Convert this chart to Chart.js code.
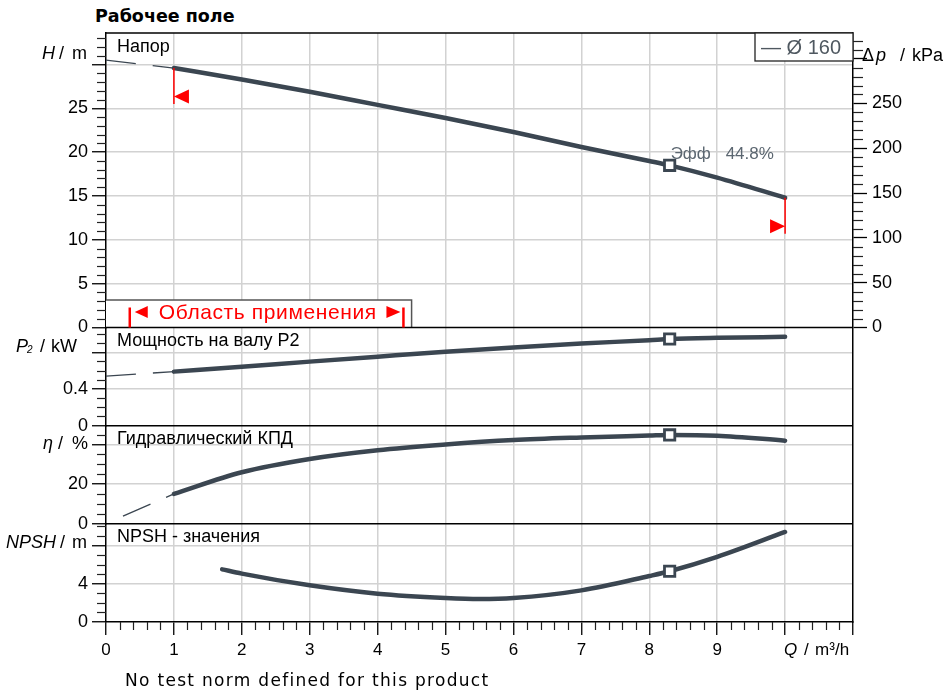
<!DOCTYPE html>
<html><head><meta charset="utf-8">
<script src="https://cdn.jsdelivr.net/npm/chart.js@4"></script>
<style>
html,body{margin:0;padding:0;background:#fff;}
#wrap{position:relative;width:944px;height:693px;overflow:hidden;}
#c{position:absolute;left:0;top:0;}
#title{position:absolute;left:95px;top:6px;font:bold 17.5px "DejaVu Sans";line-height:20px;color:#000;}
#foot{position:absolute;left:125px;top:670px;font:17px "DejaVu Sans";line-height:20px;letter-spacing:1.3px;color:#000;}
</style></head><body>
<div id="wrap">
<div id="title">Рабочее поле</div>
<canvas id="c" width="944" height="693"></canvas>
<div id="foot">No test norm defined for this product</div>
</div>
<script>
// ---------- data ----------
const qHead      = [1, 2, 3, 4, 5, 6, 7, 8, 8.3, 9, 10];
const head       = [29.6, 28.3, 26.9, 25.4, 23.9, 22.3, 20.6, 19.0, 18.5, 17.1, 14.8];
const qHeadExt   = [0, 1];
const headExt    = [30.5, 29.6];

const qPower     = [1, 2, 3, 4, 5, 6, 7, 8, 8.3, 9, 10];
const power      = [0.589, 0.643, 0.698, 0.752, 0.805, 0.852, 0.895, 0.932, 0.945, 0.958, 0.968];
const qPowerExt  = [0, 1];
const powerExt   = [0.54, 0.589];

const qEff       = [1, 2, 3, 4, 5, 6, 7, 8, 8.3, 9, 10];
const eff        = [15.1, 26.0, 32.7, 37.1, 40.0, 42.2, 43.5, 44.5, 44.8, 44.4, 41.9];
const qEffExt    = [0.25, 1];
const effExt     = [3.9, 15.1];

const qNpsh      = [1.71, 2, 3, 4, 5, 5.5, 6, 7, 8, 8.3, 9, 10];
const npsh       = [5.5, 5.05, 3.83, 2.96, 2.51, 2.4, 2.5, 3.3, 4.8, 5.3, 6.8, 9.4];

const dutyQ      = [8.3];
const dutyHead   = [18.5];
const dutyPower  = [0.945];
const dutyEff    = [44.8];
const dutyNpsh   = [5.3];

const rangeLimits = [1, 10];           // limits of the operating range (flags)
const xTickLabels = ['0','1','2','3','4','5','6','7','8','9'];
const effText = ['Эфф', '44.8%'];
const legendText = '— Ø 160';
const panelTitles = ['Напор', 'Мощность на валу P2', 'Гидравлический КПД', 'NPSH - значения'];
const rangeText = 'Область применения';

// ---------- scale ranges ----------
const H_MAX = 33.6, P_MAX = 1.07, ETA_MAX = 49.45, NPSH_MAX = 10.25;
const RHO_G = 9.78;                    // kPa per m
const DP_MAX = H_MAX * RHO_G;

const LINE = '#3b4651';
const GRID = '#d2d2d2';
const FONT = '"Liberation Sans", Arial, sans-serif';
Chart.defaults.font.family = FONT;
Chart.defaults.color = '#000';

const isMult = (v, s) => { const r = v / s; return Math.abs(r - Math.round(r)) < 1e-6; };
const pts = (xs, ys) => xs.map((x, i) => ({x, y: ys[i]}));

function lineDs(xs, ys, axis, dashed) {
  return {
    data: pts(xs, ys), yAxisID: axis, xAxisID: 'x',
    borderColor: LINE, borderWidth: dashed ? 1.3 : 4.5,
    borderDash: dashed ? [30, 17] : [],
    borderCapStyle: dashed ? 'butt' : 'round',
    pointRadius: 0, fill: false, order: 2,
    cubicInterpolationMode: 'monotone', tension: 0.4
  };
}
function markerDs(xs, ys, axis) {
  return {
    data: pts(xs, ys), yAxisID: axis, xAxisID: 'x', showLine: false,
    pointStyle: 'rect', pointRadius: 7.3, pointBorderWidth: 2.8,
    pointBackgroundColor: '#fff', pointBorderColor: LINE, order: 0
  };
}

function yAxis(id, max, step, major, labelMax, weight, stackWeight, fmt) {
  return {
    type: 'linear', position: 'left', stack: 'L', stackWeight, weight,
    min: 0, max,
    afterFit: s => { s.width = 106; },
    border: {display: true, color: '#000', width: 1.5},
    ticks: {
      stepSize: step, autoSkip: false, includeBounds: false, padding: 4,
      font: {size: 18, family: FONT}, color: '#000',
      callback: v => (isMult(v, major) && v < labelMax) ? fmt(v) : ''
    },
    grid: {
      color: c => (isMult(c.tick.value, major) && c.tick.value > 0) ? GRID : 'rgba(0,0,0,0)',
      lineWidth: 1.5, tickLength: 14,
      tickColor: c => isMult(c.tick.value, major) ? '#000' : 'rgba(0,0,0,0)',
      tickWidth: 1.3
    }
  };
}

function richText(ctx, parts, y) {
  parts.forEach(p => {
    ctx.font = p.font;
    ctx.fillText(p.t, p.x, y + (p.dy || 0));
  });
}

const decor = {
  id: 'decor',
  beforeDatasetsDraw(chart) {
    const {ctx, chartArea: a, scales: s} = chart;
    const x = s.x, yH = s.yH;
    const bx0 = a.left, bx1 = x.getPixelForValue(4.5);
    const by1 = yH.bottom, by0 = by1 - 27.5;
    ctx.save();
    ctx.fillStyle = '#fff';
    ctx.fillRect(bx0, by0, bx1 - bx0, by1 - by0);
    ctx.strokeStyle = '#555';
    ctx.lineWidth = 1.5;
    ctx.beginPath();
    ctx.moveTo(bx0, by0); ctx.lineTo(bx1, by0); ctx.lineTo(bx1, by1);
    ctx.stroke();
    ctx.restore();
  },
  afterDraw(chart) {
    const {ctx, chartArea: a, scales: s} = chart;
    const x = s.x, yH = s.yH, yP = s.yP2, yE = s.yEta, yN = s.yN, yD = s.yDp;
    ctx.save();
    // minor ticks
    ctx.strokeStyle = '#222'; ctx.lineWidth = 1.2;
    const minors = [[yH, 5, 9], [yP, 0.4, 9], [yE, 20, 9], [yN, 4, 9]];
    minors.forEach(([sc, major, len]) => {
      sc.ticks.forEach(t => {
        if (isMult(t.value, major)) return;
        const p = Math.round(sc.getPixelForValue(t.value)) + 0.5;
        ctx.beginPath(); ctx.moveTo(sc.right - len, p); ctx.lineTo(sc.right, p); ctx.stroke();
      });
    });
    yD.ticks.forEach(t => {
      if (t.value < 0 || isMult(t.value, 50)) return;
      const p = Math.round(yD.getPixelForValue(t.value)) + 0.5;
      ctx.beginPath(); ctx.moveTo(yD.left, p); ctx.lineTo(yD.left + 10, p); ctx.stroke();
    });
    x.ticks.forEach(t => {
      if (isMult(t.value, 1)) return;
      const p = Math.round(x.getPixelForValue(t.value)) + 0.5;
      ctx.beginPath(); ctx.moveTo(p, x.top); ctx.lineTo(p, x.top + 8); ctx.stroke();
    });

    // panel borders
    ctx.strokeStyle = '#000'; ctx.lineWidth = 1.5;
    [a.top, yH.bottom, yP.bottom, yE.bottom].forEach(yy => {
      ctx.beginPath(); ctx.moveTo(a.left, yy); ctx.lineTo(a.right, yy); ctx.stroke();
    });

    // axis titles
    ctx.fillStyle = '#000'; ctx.textAlign = 'left'; ctx.textBaseline = 'middle';
    const N = '18px ' + FONT, I = 'italic 18px ' + FONT;
    richText(ctx, [{t: 'H', font: I, x: 42}, {t: '/', font: N, x: 59}, {t: 'm', font: N, x: 72}], yH.getPixelForValue(30) - 11);
    richText(ctx, [{t: 'P', font: I, x: 16}, {t: '2', font: 'italic 10px ' + FONT, x: 27, dy: 3}, {t: '/', font: N, x: 40}, {t: 'kW', font: N, x: 51}], yP.getPixelForValue(0.8) - 5);
    richText(ctx, [{t: 'η', font: I, x: 43}, {t: '/', font: N, x: 58}, {t: '%', font: N, x: 72}], yE.getPixelForValue(40));
    richText(ctx, [{t: 'NPSH', font: I, x: 6}, {t: '/', font: N, x: 60}, {t: 'm', font: N, x: 72}], yN.getPixelForValue(8) - 2);
    const dl = yD.left;
    richText(ctx, [{t: 'Δ', font: N, x: dl + 9}, {t: 'p', font: I, x: dl + 23}, {t: '/', font: N, x: dl + 47}, {t: 'kPa', font: N, x: dl + 59}], yD.getPixelForValue(300) - 3);
    const qx = x.getPixelForValue(10);
    const ly = x.top + 28;
    richText(ctx, [{t: 'Q', font: 'italic 17px ' + FONT, x: qx - 1}, {t: '/', font: '17px ' + FONT, x: qx + 19}, {t: 'm³/h', font: '17px ' + FONT, x: qx + 30}], ly);

    // panel titles
    ctx.textBaseline = 'alphabetic';
    ctx.font = '18px ' + FONT;
    [yH, yP, yE, yN].forEach((sc, i) => {
      ctx.fillText(panelTitles[i], a.left + 11, sc.top + 18.5);
    });

    // legend box
    const lw = 98, lh = 28;
    ctx.fillStyle = '#fff';
    ctx.fillRect(a.right - lw, a.top, lw, lh);
    ctx.strokeStyle = '#222'; ctx.lineWidth = 1.3;
    ctx.strokeRect(a.right - lw, a.top, lw, lh);
    ctx.fillStyle = '#4f5860';
    ctx.font = '20px ' + FONT;
    ctx.fillText(legendText, a.right - lw + 6, a.top + 21);

    // efficiency label near duty point
    const dx = x.getPixelForValue(dutyQ[0]), dy = yH.getPixelForValue(dutyHead[0]);
    ctx.fillStyle = '#5b6670';
    ctx.font = '17px ' + FONT;
    ctx.fillText(effText[0], dx + 1, dy - 6);
    ctx.fillText(effText[1], dx + 56, dy - 6);

    // range flags
    ctx.strokeStyle = '#ff0000'; ctx.fillStyle = '#ff0000'; ctx.lineWidth = 1.5;
    const fx0 = x.getPixelForValue(rangeLimits[0]);
    const fy0 = yH.getPixelForValue(head[qHead.indexOf(rangeLimits[0])]);
    ctx.beginPath(); ctx.moveTo(fx0, fy0); ctx.lineTo(fx0, fy0 + 36); ctx.stroke();
    ctx.beginPath(); ctx.moveTo(fx0, fy0 + 28.5); ctx.lineTo(fx0 + 15, fy0 + 21.5); ctx.lineTo(fx0 + 15, fy0 + 35.5); ctx.closePath(); ctx.fill();
    const fx1 = x.getPixelForValue(rangeLimits[1]);
    const fy1 = yH.getPixelForValue(head[qHead.indexOf(rangeLimits[1])]);
    ctx.beginPath(); ctx.moveTo(fx1, fy1); ctx.lineTo(fx1, fy1 + 36); ctx.stroke();
    ctx.beginPath(); ctx.moveTo(fx1, fy1 + 28.5); ctx.lineTo(fx1 - 15, fy1 + 21.5); ctx.lineTo(fx1 - 15, fy1 + 35.5); ctx.closePath(); ctx.fill();

    // application range caption
    const by1 = yH.bottom;
    const b0 = x.getPixelForValue(0.35), b1 = x.getPixelForValue(4.38);
    ctx.lineWidth = 2.5;
    ctx.beginPath(); ctx.moveTo(b0, by1 - 20); ctx.lineTo(b0, by1); ctx.stroke();
    ctx.beginPath(); ctx.moveTo(b1, by1 - 20); ctx.lineTo(b1, by1); ctx.stroke();
    const ty = by1 - 15.5;
    ctx.beginPath(); ctx.moveTo(b0 + 5, ty); ctx.lineTo(b0 + 18, ty - 6); ctx.lineTo(b0 + 18, ty + 6); ctx.closePath(); ctx.fill();
    ctx.beginPath(); ctx.moveTo(b1 - 3, ty); ctx.lineTo(b1 - 17, ty - 6); ctx.lineTo(b1 - 17, ty + 6); ctx.closePath(); ctx.fill();
    ctx.font = '21px ' + FONT;
    if ('letterSpacing' in ctx) ctx.letterSpacing = '0.6px';
    ctx.textAlign = 'left';
    ctx.fillText(rangeText, b0 + 29, by1 - 9);
    ctx.restore();
  }
};

new Chart(document.getElementById('c'), {
  type: 'line',
  data: {
    datasets: [
      markerDs(dutyQ, dutyHead, 'yH'),
      markerDs(dutyQ, dutyPower, 'yP2'),
      markerDs(dutyQ, dutyEff, 'yEta'),
      markerDs(dutyQ, dutyNpsh, 'yN'),
      lineDs(qHeadExt, headExt, 'yH', true),
      lineDs(qHead, head, 'yH', false),
      lineDs(qPowerExt, powerExt, 'yP2', true),
      lineDs(qPower, power, 'yP2', false),
      lineDs(qEffExt, effExt, 'yEta', true),
      lineDs(qEff, eff, 'yEta', false),
      lineDs(qNpsh, npsh, 'yN', false)
    ]
  },
  options: {
    responsive: false, animation: false,
    layout: {padding: {top: 33, left: 0, right: 0, bottom: 0}},
    plugins: {legend: {display: false}, tooltip: {enabled: false}, title: {display: false}},
    scales: {
      x: {
        type: 'linear', position: 'bottom', min: 0, max: 11,
        afterFit: s => { s.height = 71; },
        border: {display: true, color: '#000', width: 1.5},
        ticks: {
          stepSize: 0.2, autoSkip: false, maxRotation: 0, includeBounds: false, padding: 5,
          font: {size: 17, family: FONT}, color: '#000',
          callback: v => {
            if (!isMult(v, 1)) return '';
            const i = Math.round(v);
            return i < xTickLabels.length ? xTickLabels[i] : '';
          }
        },
        grid: {
          color: c => (isMult(c.tick.value, 1) && c.tick.value > 0.5 && c.tick.value < 10.5) ? GRID : 'rgba(0,0,0,0)',
          lineWidth: 1.5, tickLength: 13, tickWidth: 1.3,
          tickColor: c => isMult(c.tick.value, 1) ? '#000' : 'rgba(0,0,0,0)'
        }
      },
      yH:   yAxis('yH', H_MAX, 1, 5, 29, 4, 3, v => String(Math.round(v))),
      yP2:  yAxis('yP2', P_MAX, 0.1, 0.4, 0.7, 3, 1, v => v < 0.05 ? '0' : v.toFixed(1)),
      yEta: yAxis('yEta', ETA_MAX, 5, 20, 30, 2, 1, v => String(Math.round(v))),
      yN:   yAxis('yN', NPSH_MAX, 1, 4, 7, 1, 1, v => String(Math.round(v))),
      yDp: {
        type: 'linear', position: 'right', min: -DP_MAX, max: DP_MAX,
        afterFit: s => { s.width = 91; },
        border: {display: true, color: '#000', width: 1.5},
        ticks: {
          stepSize: 10, autoSkip: false, includeBounds: false, padding: 5,
          font: {size: 18, family: FONT}, color: '#000',
          callback: v => (v >= 0 && isMult(v, 50) && v < 290) ? String(Math.round(v)) : ''
        },
        grid: {
          drawOnChartArea: false, tickLength: 14, tickWidth: 1.3,
          tickColor: c => (c.tick.value >= 0 && isMult(c.tick.value, 50)) ? '#000' : 'rgba(0,0,0,0)'
        }
      }
    }
  },
  plugins: [decor]
});
</script>
</body></html>
